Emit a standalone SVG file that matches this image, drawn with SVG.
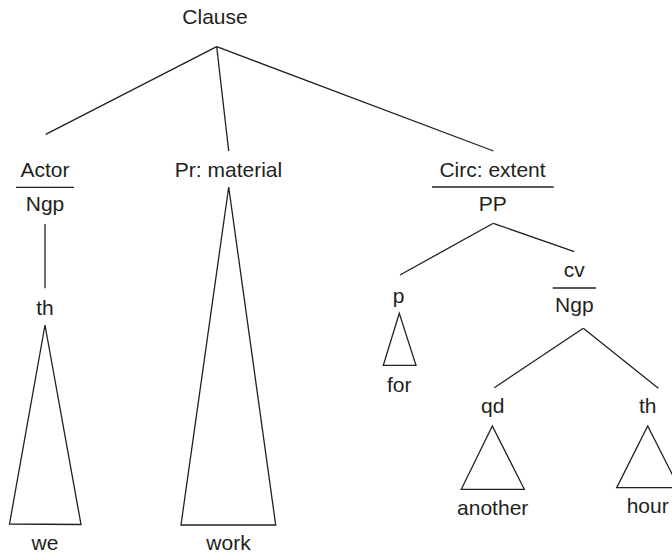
<svg xmlns="http://www.w3.org/2000/svg" width="672" height="555" viewBox="0 0 672 555">
  <style>
    text { font-family: "Liberation Sans", Arial, sans-serif; font-size: 21px; fill: #231f20; text-anchor: middle; }
    .ln { stroke: #231f20; stroke-width: 1.3; fill: none; }
    .tri { stroke: #231f20; stroke-width: 1.3; fill: none; stroke-linejoin: miter; }
  </style>
  <rect width="672" height="555" fill="#ffffff"/>

  <g id="connectors">
    <line class="ln" x1="216.7" y1="46.7" x2="45.7" y2="134.3"/>
    <line class="ln" x1="216.7" y1="46.7" x2="228.7" y2="151"/>
    <line class="ln" x1="216.7" y1="46.7" x2="493.5" y2="151"/>
    <line class="ln" x1="45" y1="224" x2="45" y2="288.3"/>
    <line class="ln" x1="493.3" y1="223.3" x2="400" y2="275"/>
    <line class="ln" x1="493.3" y1="223.3" x2="574.3" y2="251.7"/>
    <line class="ln" x1="583.3" y1="328.3" x2="494.3" y2="387.7"/>
    <line class="ln" x1="583.3" y1="328.3" x2="658.3" y2="388.3"/>
  </g>

  <g id="triangles">
    <polygon class="tri" points="45,325 9.5,524 81,524.5"/>
    <polygon class="tri" points="228.7,187 181,525 275.7,525"/>
    <polygon class="tri" points="399.3,313.3 383.3,365.3 416,365.3"/>
    <polygon class="tri" points="492.3,426 461.3,489.3 524.3,489.3"/>
    <polygon class="tri" points="647.7,426 616.7,487.7 679,487.7"/>
  </g>

  <g id="node-clause">
    <text x="215" y="24">Clause</text>
  </g>
  <g id="node-actor">
    <text x="45" y="176.7">Actor</text>
    <line class="ln" x1="16" y1="187.3" x2="74" y2="187.3"/>
    <text x="45" y="211">Ngp</text>
  </g>
  <g id="node-th-actor">
    <text x="45" y="315">th</text>
  </g>
  <g id="node-we">
    <text x="45" y="550">we</text>
  </g>
  <g id="node-pr">
    <text x="228.5" y="176.7">Pr: material</text>
  </g>
  <g id="node-work">
    <text x="228.5" y="550">work</text>
  </g>
  <g id="node-circ">
    <text x="492.5" y="176.7">Circ: extent</text>
    <line class="ln" x1="432" y1="187" x2="553.7" y2="187"/>
    <text x="492.7" y="211">PP</text>
  </g>
  <g id="node-p">
    <text x="398.5" y="303.3">p</text>
  </g>
  <g id="node-for">
    <text x="399.3" y="391.7">for</text>
  </g>
  <g id="node-cv">
    <text x="574.3" y="277.3">cv</text>
    <line class="ln" x1="552.7" y1="288" x2="596" y2="288"/>
    <text x="574.3" y="311.7">Ngp</text>
  </g>
  <g id="node-qd">
    <text x="492.7" y="413.3">qd</text>
  </g>
  <g id="node-another">
    <text x="492.7" y="515">another</text>
  </g>
  <g id="node-th-cv">
    <text x="647.7" y="413.3">th</text>
  </g>
  <g id="node-hour">
    <text x="647.7" y="513.3">hour</text>
  </g>
</svg>
